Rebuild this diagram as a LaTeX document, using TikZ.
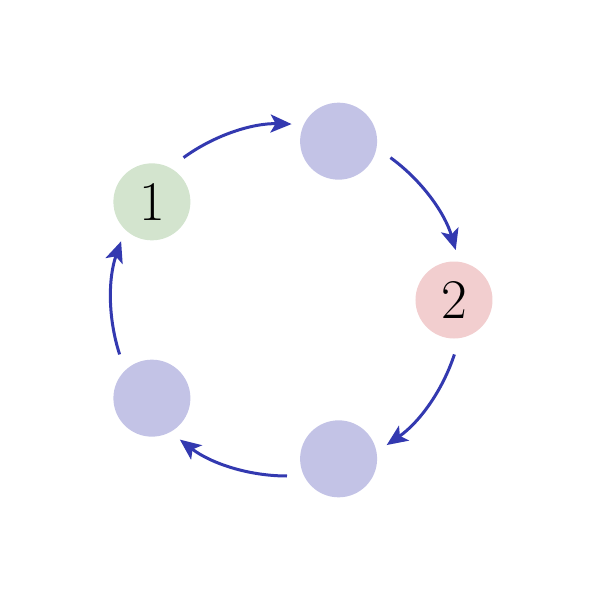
\documentclass[tikz,border=0pt]{standalone}
\usetikzlibrary{arrows.meta}
\definecolor{arrc}{RGB}{51,57,176}
\definecolor{bluef}{RGB}{195,195,230}
\definecolor{greenf}{RGB}{211,228,206}
\definecolor{redf}{RGB}{242,206,207}
\begin{document}
\begin{tikzpicture}[x=0.5pt,y=0.5pt,
  ring/.style={circle,minimum size=38.5pt,inner sep=0pt,font=\fontsize{28}{32}\selectfont},
  arr/.style={draw=arrc,line width=1.5pt,-{Stealth[length=10.5pt,width=9pt,inset=2.5pt]}}]
\useasboundingbox (0,0) rectangle (602,602);
\coordinate (c) at (287,302);
\node[ring,fill=greenf] (n1) at ([shift={(144:167)}]c) {1};
\node[ring,fill=bluef] (n2) at ([shift={(72:167)}]c) {};
\node[ring,fill=redf] (n3) at ([shift={(0:167)}]c) {2};
\node[ring,fill=bluef] (n4) at ([shift={(-72:167)}]c) {};
\node[ring,fill=bluef] (n5) at ([shift={(-144:167)}]c) {};
\draw[arr] ([shift={(126:176)}]c) arc[start angle=126,end angle=88.5,radius=176];
\draw[arr] ([shift={(54:176)}]c) arc[start angle=54,end angle=16.5,radius=176];
\draw[arr] ([shift={(-18:176)}]c) arc[start angle=-18,end angle=-55.5,radius=176];
\draw[arr] ([shift={(-90:176)}]c) arc[start angle=-90,end angle=-127.5,radius=176];
\draw[arr] ([shift={(198:176)}]c) arc[start angle=198,end angle=160.5,radius=176];
\end{tikzpicture}
\end{document}
